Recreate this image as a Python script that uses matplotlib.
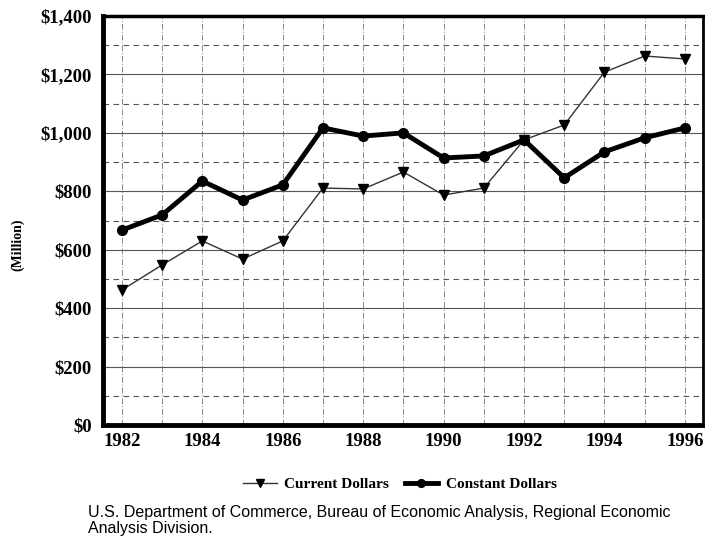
import numpy as np
import matplotlib.pyplot as plt
from matplotlib.ticker import MultipleLocator, FuncFormatter

years = list(range(1982, 1997))
current_dollars = [462, 548, 630, 568, 630, 811, 808, 866, 787, 811, 976, 1027, 1208, 1263, 1253]
constant_dollars = [667, 719, 835, 770, 822, 1017, 989, 1000, 914, 921, 976, 846, 935, 983, 1017]

serif = ['Liberation Serif', 'DejaVu Serif']

fig = plt.figure(figsize=(7.05, 5.37), dpi=100)
ax = fig.add_axes([103 / 705, 1 - 425 / 537, 600 / 705, 409 / 537])

ax.plot(years, current_dollars, color='#333333', lw=1.0, marker='v', ms=7,
        mfc='black', mec='black', label='Current Dollars', zorder=3)
ax.plot(years, constant_dollars, color='black', lw=3.5, marker='o', ms=7,
        label='Constant Dollars', zorder=4)

ax.set_xlim(1981.53, 1996.45)
ax.set_ylim(0, 1400)
ax.xaxis.set_major_locator(MultipleLocator(2))
ax.xaxis.set_minor_locator(MultipleLocator(1))
ax.yaxis.set_major_locator(MultipleLocator(200))
ax.yaxis.set_minor_locator(MultipleLocator(100))
ax.yaxis.set_major_formatter(FuncFormatter(lambda v, p: f'${v:,.0f}'))

ax.grid(True, which='major', axis='y', color='#555555', lw=0.8, ls='-')
ax.grid(True, which='minor', axis='y', color='#555555', lw=0.8, ls=(0, (5, 4)))
ax.grid(True, which='both', axis='x', color='#888888', lw=0.7, ls=(0, (6, 2, 1, 2)))

ax.tick_params(which='both', length=0)
ax.tick_params(axis='x', pad=6)
ax.tick_params(axis='y', pad=8)
for lab in ax.get_xticklabels() + ax.get_yticklabels():
    lab.set_fontfamily(serif)
    lab.set_fontweight('bold')
    lab.set_fontsize(13.5)

ax.spines['left'].set_linewidth(3.5)
ax.spines['bottom'].set_linewidth(3.5)
ax.spines['top'].set_linewidth(2.5)
ax.spines['right'].set_linewidth(2)

fig.text(18 / 705, 1 - 245 / 537, '(Million)', rotation=90, ha='center', va='center',
         family=serif, fontweight='bold', fontsize=10)

leg = fig.legend(loc='center', bbox_to_anchor=(400 / 705, 1 - 484 / 537), ncol=2,
                 frameon=False, prop={'family': serif, 'weight': 'bold', 'size': 11},
                 handlelength=2.2, columnspacing=1.0, handletextpad=0.5, markerscale=0.8)

fig.text(88 / 705, 1 - 512 / 537, 'U.S. Department of Commerce, Bureau of Economic Analysis, Regional Economic',
         family=['Liberation Sans', 'DejaVu Sans'], fontsize=11.5, va='center')
fig.text(88 / 705, 1 - 529 / 537, 'Analysis Division.',
         family=['Liberation Sans', 'DejaVu Sans'], fontsize=11.5, va='center')

fig.savefig('out.png', dpi=100)
